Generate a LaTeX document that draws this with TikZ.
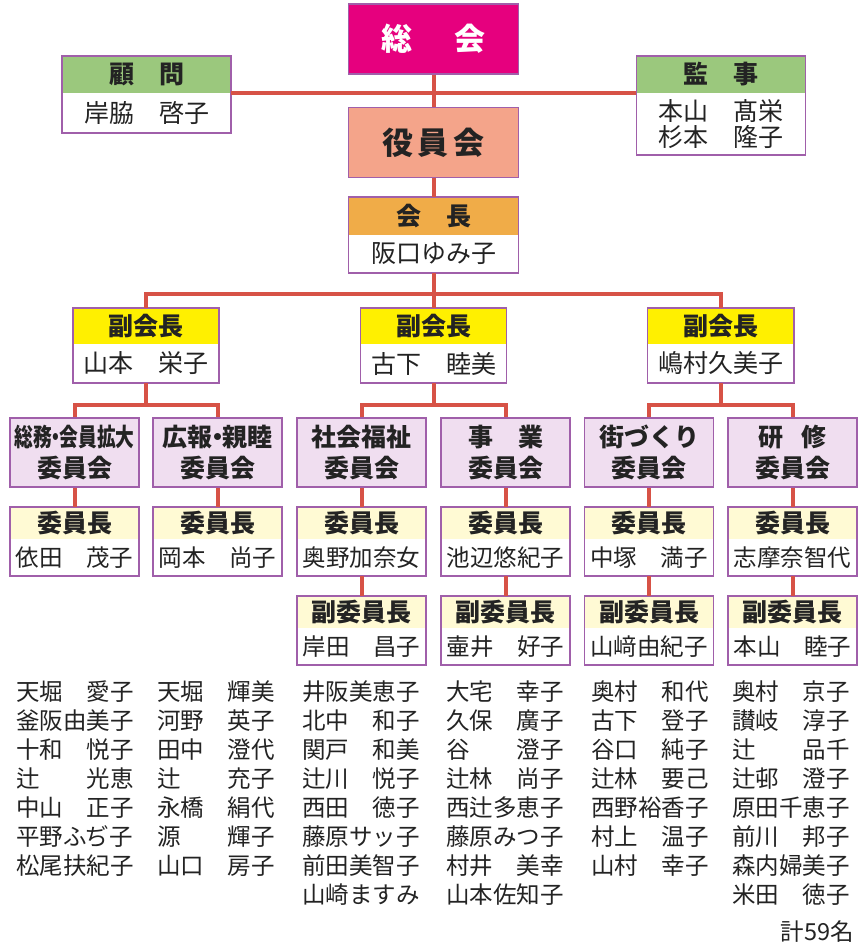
\documentclass[tikz,border=0pt]{standalone}
\usepackage{fontspec}
\usepackage{graphicx}
\usepackage{tikz}
\newfontfamily\cjk{Noto Sans CJK JP}

\definecolor{sokaipink}{RGB}{230,0,126}
\definecolor{yakuinsalmon}{RGB}{244,164,138}
\definecolor{kaichoorange}{RGB}{240,172,72}
\definecolor{advgreen}{RGB}{155,200,125}
\definecolor{vpyellow}{RGB}{255,240,0}
\definecolor{comlilac}{RGB}{240,222,240}
\definecolor{chaircream}{RGB}{255,250,212}
\definecolor{linkred}{RGB}{215,82,70}
\definecolor{edgepurple}{RGB}{160,95,170}
\definecolor{ink}{RGB}{35,35,35}

\newcommand{\sz}[2]{\fontsize{#1}{#2}\selectfont}

\tikzset{
  link/.style={draw=linkred, line width=4pt},
  frame/.style={draw=edgepurple, line width=1.5pt},
  cell/.style={inner sep=0pt, text=ink, align=center},
  headcell/.style={cell, font=\cjk\bfseries\sz{25}{27}},
  namecell/.style={cell, fill=white, font=\cjk\sz{25}{26}},
  topbox/.style={cell, draw=edgepurple, line width=1.5pt, minimum width=170pt, minimum height=70pt, font=\cjk\bfseries\sz{31}{33}},
  advhead/.style={headcell, fill=advgreen, minimum width=169pt, minimum height=37pt},
  advname/.style={namecell, minimum width=169pt},
  chiefhead/.style={headcell, fill=kaichoorange, minimum width=170pt, minimum height=38pt},
  chiefname/.style={namecell, minimum width=170pt, minimum height=38pt},
  vphead/.style={headcell, fill=vpyellow, minimum width=146pt, minimum height=36pt},
  vpname/.style={namecell, minimum width=146pt, minimum height=39pt},
  committee/.style={cell, draw=edgepurple, line width=1.5pt, fill=comlilac, minimum width=129pt, minimum height=69pt, font=\cjk\bfseries\sz{25}{31}},
  chairhead/.style={headcell, fill=chaircream, minimum width=129pt, minimum height=32pt},
  chairname/.style={namecell, font=\cjk\sz{23.5}{26}, minimum width=129pt, minimum height=37pt},
  roster/.style={inner sep=0pt, anchor=north west, align=left, text=ink, font=\cjk\sz{23.5}{29}}
}

\begin{document}
\begin{tikzpicture}[x=1pt,y=1pt]
    \useasboundingbox[fill=white] (0,0) rectangle (866,-950);

    % top of the chart
    \node[topbox, fill=sokaipink, text=white] (sokai) at (433.5,-39) {総\hspace{42pt}会};
    \node[topbox, fill=yakuinsalmon] (yakuin) at (433.5,-142.5) {役\kern5pt員\kern5pt会};

    \node[advhead] (komonh) at (146.5,-74.5) {顧　問};
    \node[advname, minimum height=40pt] (komon) at (146.5,-113) {岸脇　啓子};
    \node[advhead] (kanjih) at (721,-74.5) {監　事};
    \node[advname, minimum height=62pt] (kanji) at (721,-124) {本山　髙栄\\杉本　隆子};

    \node[chiefhead] (kaichoh) at (433.5,-216) {会　長};
    \node[chiefname] (kaicho) at (433.5,-254) {阪口ゆみ子};

    % vice presidents
    \node[vphead] (vp1h) at (146,-326) {副会長};
    \node[vpname] (vp1) at (146,-363.5) {山本　栄子};
    \node[vphead] (vp2h) at (433.5,-326) {副会長};
    \node[vpname] (vp2) at (433.5,-363.5) {古下　睦美};
    \node[vphead] (vp3h) at (720.75,-326) {副会長};
    \node[vpname] (vp3) at (720.75,-363.5) {嶋村久美子};

    % committees
    \node[committee] (com1) at (74.5,-452.5) {\scalebox{0.75}[1]{総務\kern-.3em・\kern-.3em会員拡大}\\委員会};
    \node[committee] (com2) at (217.5,-452.5) {広報\kern-.3em・\kern-.3em親睦\\委員会};
    \node[committee] (com3) at (361.5,-452.5) {社会福祉\\委員会};
    \node[committee] (com4) at (505.5,-452.5) {事　業\\委員会};
    \node[committee] (com5) at (649,-452.5) {街づくり\\委員会};
    \node[committee] (com6) at (792.5,-452.5) {研\hspace{0.7em}修\\委員会};

    % chairs
    \node[chairhead] (ch1h) at (74.5,-523) {委員長};
    \node[chairname] (ch1) at (74.5,-557.5) {依田　茂子};
    \node[chairhead] (ch2h) at (217.5,-523) {委員長};
    \node[chairname] (ch2) at (217.5,-557.5) {岡本　尚子};
    \node[chairhead] (ch3h) at (361.5,-523) {委員長};
    \node[chairname] (ch3) at (361.5,-557.5) {奥野加奈女};
    \node[chairhead] (ch4h) at (505.5,-523) {委員長};
    \node[chairname] (ch4) at (505.5,-557.5) {池辺悠紀子};
    \node[chairhead] (ch5h) at (649,-523) {委員長};
    \node[chairname] (ch5) at (649,-557.5) {中塚　満子};
    \node[chairhead] (ch6h) at (792.5,-523) {委員長};
    \node[chairname] (ch6) at (792.5,-557.5) {志摩奈智代};

    % vice chairs
    \node[chairhead] (vc3h) at (361.5,-612) {副委員長};
    \node[chairname] (vc3) at (361.5,-646.5) {岸田　昌子};
    \node[chairhead] (vc4h) at (505.5,-612) {副委員長};
    \node[chairname] (vc4) at (505.5,-646.5) {壷井　好子};
    \node[chairhead] (vc5h) at (649,-612) {副委員長};
    \node[chairname] (vc5) at (649,-646.5) {山﨑由紀子};
    \node[chairhead] (vc6h) at (792.5,-612) {副委員長};
    \node[chairname] (vc6) at (792.5,-646.5) {本山　睦子};

    % frames of the two-part boxes
    \draw[frame] (komonh.north west) rectangle (komon.south east);
    \draw[frame] (kanjih.north west) rectangle (kanji.south east);
    \draw[frame] (kaichoh.north west) rectangle (kaicho.south east);
    \draw[frame] (vp1h.north west) rectangle (vp1.south east);
    \draw[frame] (vp2h.north west) rectangle (vp2.south east);
    \draw[frame] (vp3h.north west) rectangle (vp3.south east);
    \draw[frame] (ch1h.north west) rectangle (ch1.south east);
    \draw[frame] (ch2h.north west) rectangle (ch2.south east);
    \draw[frame] (ch3h.north west) rectangle (ch3.south east);
    \draw[frame] (ch4h.north west) rectangle (ch4.south east);
    \draw[frame] (ch5h.north west) rectangle (ch5.south east);
    \draw[frame] (ch6h.north west) rectangle (ch6.south east);
    \draw[frame] (vc3h.north west) rectangle (vc3.south east);
    \draw[frame] (vc4h.north west) rectangle (vc4.south east);
    \draw[frame] (vc5h.north west) rectangle (vc5.south east);
    \draw[frame] (vc6h.north west) rectangle (vc6.south east);

    % connectors
    \draw[link] (sokai) -- (yakuin);
    \draw[link] (komonh.south east) -- (kanjih.south west);
    \draw[link] (yakuin) -- (kaichoh);
    \draw[link] (kaicho.south) -- ++(0,-21) -| (vp1h.north);
    \draw[link] (kaicho.south) -- ++(0,-21) -| (vp3h.north);
    \draw[link] (kaicho) -- (vp2h);
    \draw[link] (vp1.south) -- ++(0,-22) -| (com1.north);
    \draw[link] (vp1.south) -- ++(0,-22) -| (com2.north);
    \draw[link] (vp2.south) -- ++(0,-22) -| (com3.north);
    \draw[link] (vp2.south) -- ++(0,-22) -| (com4.north);
    \draw[link] (vp3.south) -- ++(0,-22) -| (com5.north);
    \draw[link] (vp3.south) -- ++(0,-22) -| (com6.north);
    \draw[link] (com1) -- (ch1h);
    \draw[link] (com2) -- (ch2h);
    \draw[link] (com3) -- (ch3h);
    \draw[link] (com4) -- (ch4h);
    \draw[link] (com5) -- (ch5h);
    \draw[link] (com6) -- (ch6h);
    \draw[link] (ch3) -- (vc3h);
    \draw[link] (ch4) -- (vc4h);
    \draw[link] (ch5) -- (vc5h);
    \draw[link] (ch6) -- (vc6h);

    % members
    \node[roster] (list1) at (16,-681) {天堀　愛子\\釜阪由美子\\十和　悦子\\辻　　光恵\\中山　正子\\平野ふぢ子\\松尾扶紀子};
    \node[roster] (list2) at (157,-681) {天堀　輝美\\河野　英子\\田中　澄代\\辻　　充子\\永橋　絹代\\源　　輝子\\山口　房子};
    \node[roster] (list3) at (302,-681) {井阪美恵子\\北中　和子\\関戸　和美\\辻川　悦子\\西田　徳子\\藤原サッ子\\前田美智子\\山崎ますみ};
    \node[roster] (list4) at (446,-681) {大宅　幸子\\久保　廣子\\谷　　澄子\\辻林　尚子\\西辻多恵子\\藤原みつ子\\村井　美幸\\山本佐知子};
    \node[roster] (list5) at (591,-681) {奥村　和代\\古下　登子\\谷口　純子\\辻林　要己\\西野裕香子\\村上　温子\\山村　幸子};
    \node[roster] (list6) at (732,-681) {奥村　京子\\讃岐　淳子\\辻　　品千\\辻邨　澄子\\原田千恵子\\前川　邦子\\森内婦美子\\米田　徳子};
    \node[roster, anchor=east] (total) at (854,-932) {計59名};
  \end{tikzpicture}
\end{document}
